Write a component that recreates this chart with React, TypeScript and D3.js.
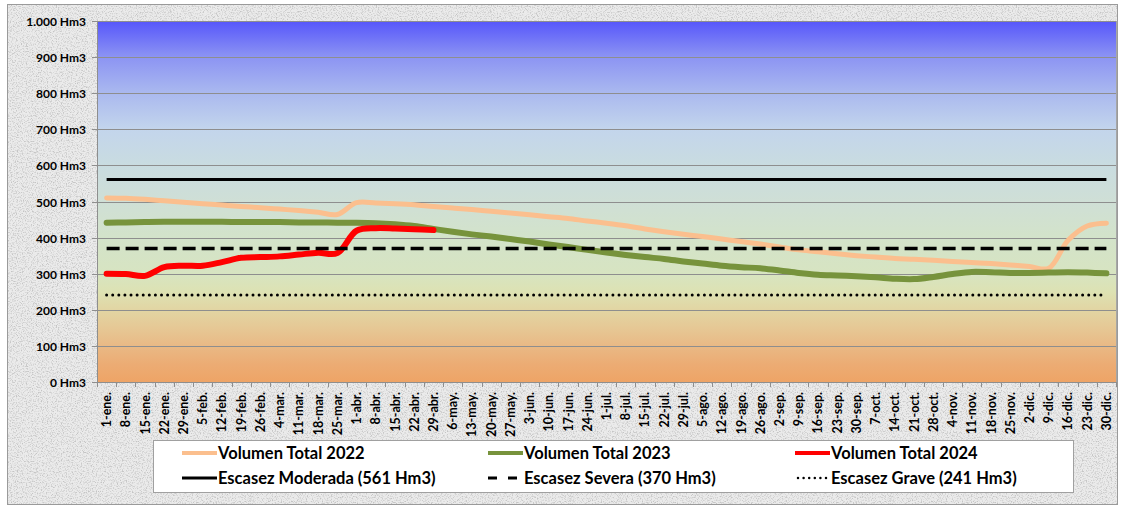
import { useRef, useEffect } from 'react';
import * as d3 from 'd3';

// weekly categories (leap year 2024)
const weeks = [
  '1-ene.', '8-ene.', '15-ene.', '22-ene.', '29-ene.',
  '5-feb.', '12-feb.', '19-feb.', '26-feb.',
  '4-mar.', '11-mar.', '18-mar.', '25-mar.',
  '1-abr.', '8-abr.', '15-abr.', '22-abr.', '29-abr.',
  '6-may.', '13-may.', '20-may.', '27-may.',
  '3-jun.', '10-jun.', '17-jun.', '24-jun.',
  '1-jul.', '8-jul.', '15-jul.', '22-jul.', '29-jul.',
  '5-ago.', '12-ago.', '19-ago.', '26-ago.',
  '2-sep.', '9-sep.', '16-sep.', '23-sep.', '30-sep.',
  '7-oct.', '14-oct.', '21-oct.', '28-oct.',
  '4-nov.', '11-nov.', '18-nov.', '25-nov.',
  '2-dic.', '9-dic.', '16-dic.', '23-dic.', '30-dic.',
];

// volumes in Hm3
const vol2022 = [
  510, 509, 506, 502, 498, 494, 490, 486, 483, 479, 475, 470, 464,
  497, 496, 494, 491, 486, 482, 478, 473, 468, 463, 458, 453, 446,
  440, 433, 424, 416, 409, 403, 396, 389, 382, 374, 366, 361, 355,
  350, 346, 342, 340, 337, 334, 331, 328, 324, 320, 315, 392, 432, 440,
];
const vol2023 = [
  441, 442, 443, 444, 444, 444, 444, 443, 443, 443, 442, 442, 441,
  441, 440, 437, 432, 424, 416, 409, 403, 396, 389, 381, 374, 366,
  359, 352, 346, 341, 334, 328, 322, 318, 315, 309, 302, 297, 295,
  293, 290, 286, 285, 291, 299, 305, 304, 302, 302, 303, 304, 303, 301,
];
const vol2024 = [
  300, 299, 294, 318, 322, 322, 332, 344, 346, 348, 353, 358, 357,
  419, 426, 425, 423, 421,
];

const seriesNames = ['Volumen Total 2022', 'Volumen Total 2023', 'Volumen Total 2024'];
const thresholdNames = ['Escasez Moderada (561 Hm3)', 'Escasez Severa (370 Hm3)', 'Escasez Grave (241 Hm3)'];
const thresholdValues = [561, 370, 241];
const yTicks = [0, 100, 200, 300, 400, 500, 600, 700, 800, 900, 1000];

const W = 1121;
const H = 507;
const FONT = "Lato, 'Open Sans', sans-serif";

export default function App() {
  const svgRef = useRef<SVGSVGElement>(null);

  useEffect(() => {
    const svg = d3.select(svgRef.current);
    svg.selectAll('*').remove();

    const plot = { left: 97, top: 21, right: 1116, bottom: 382 };

    const x = d3.scalePoint<string>().domain(weeks).range([plot.left, plot.right]).padding(0.5);
    const y = d3.scaleLinear().domain([0, 1000]).range([plot.bottom, plot.top]);
    const step = x.step();

    const defs = svg.append('defs');
    const grad = defs
      .append('linearGradient')
      .attr('id', 'plotBg')
      .attr('x1', 0).attr('y1', 0).attr('x2', 0).attr('y2', 1);
    const stops: [number, string][] = [
      [0, '#5656fb'],
      [0.1, '#8c94f3'],
      [0.2, '#aab9ef'],
      [0.3, '#c3d5ec'],
      [0.4, '#c9dce0'],
      [0.5, '#cfdfd6'],
      [0.6, '#d3e3ca'],
      [0.7, '#d7e4c1'],
      [0.75, '#dde2b3'],
      [0.8, '#e2d5a3'],
      [0.85, '#e6c895'],
      [0.9, '#e9b985'],
      [0.95, '#ecac74'],
      [1, '#eea466'],
    ];
    stops.forEach(([o, c]) => grad.append('stop').attr('offset', o).attr('stop-color', c));

    // grey granite texture of the chart background
    const filter = defs
      .append('filter')
      .attr('id', 'granite')
      .attr('x', 0).attr('y', 0).attr('width', '100%').attr('height', '100%');
    filter
      .append('feTurbulence')
      .attr('type', 'fractalNoise')
      .attr('baseFrequency', 0.8)
      .attr('numOctaves', 3)
      .attr('seed', 7);
    filter
      .append('feColorMatrix')
      .attr('type', 'matrix')
      .attr('values', '0 0 0 0 0.55  0 0 0 0 0.55  0 0 0 0 0.55  3.2 0 0 0 -1.5');

    // outer background
    svg.append('rect').attr('width', W).attr('height', H).attr('fill', '#ffffff');
    svg.append('rect').attr('x', 7).attr('y', 4).attr('width', 1111).attr('height', 501).attr('fill', '#ebebeb');
    svg.append('rect').attr('x', 7).attr('y', 4).attr('width', 1111).attr('height', 501).attr('filter', 'url(#granite)');
    svg
      .append('rect')
      .attr('x', 7.5).attr('y', 4.5).attr('width', 1110).attr('height', 500)
      .attr('fill', 'none').attr('stroke', '#9a9a9a');

    // plot area
    svg
      .append('rect')
      .attr('x', plot.left).attr('y', plot.top)
      .attr('width', plot.right - plot.left).attr('height', plot.bottom - plot.top)
      .attr('fill', 'url(#plotBg)');
    svg
      .append('line')
      .attr('x1', plot.right + 0.5).attr('x2', plot.right + 0.5)
      .attr('y1', plot.top).attr('y2', plot.bottom)
      .attr('stroke', '#a6a6a6');

    // gridlines + y labels
    for (const t of yTicks) {
      const ty = Math.round(y(t)) + 0.5;
      svg
        .append('line')
        .attr('x1', plot.left - 5).attr('x2', plot.right)
        .attr('y1', ty).attr('y2', ty)
        .attr('stroke', '#8e8e8e').attr('stroke-width', 1);
      svg
        .append('text')
        .attr('x', 86).attr('y', ty + 4)
        .attr('text-anchor', 'end')
        .attr('font-family', FONT).attr('font-weight', 700).attr('font-size', '12px')
        .attr('fill', '#000')
        .text(`${d3.format(',')(t).replace(',', '.')} Hm3`);
    }

    // axes
    svg
      .append('line')
      .attr('x1', plot.left + 0.5).attr('x2', plot.left + 0.5)
      .attr('y1', plot.top).attr('y2', plot.bottom)
      .attr('stroke', '#8e8e8e');
    for (let i = 0; i <= weeks.length; i++) {
      const tx = Math.round(plot.left + i * step) + 0.5;
      svg
        .append('line')
        .attr('x1', tx).attr('x2', tx)
        .attr('y1', plot.bottom).attr('y2', plot.bottom + 5)
        .attr('stroke', '#8e8e8e');
    }
    for (const w of weeks) {
      const tx = (x(w) ?? 0) + 4.5;
      svg
        .append('text')
        .attr('transform', `translate(${tx},392) rotate(-90)`)
        .attr('text-anchor', 'end')
        .attr('font-family', FONT).attr('font-weight', 700).attr('font-size', '12.5px')
        .attr('fill', '#000')
        .text(w);
    }

    // series
    const line = d3
      .line<number>()
      .x((_, i) => x(weeks[i]) ?? 0)
      .y((d) => y(d))
      .curve(d3.curveCatmullRom.alpha(0.5));

    const seriesStyle = [
      { color: '#fbbf8e', width: 5 },
      { color: '#77933c', width: 6 },
      { color: '#ff0000', width: 6 },
    ];
    [vol2022, vol2023, vol2024].forEach((vals, i) => {
      svg
        .append('path')
        .datum(vals)
        .attr('d', line)
        .attr('fill', 'none')
        .attr('stroke', seriesStyle[i].color)
        .attr('stroke-width', seriesStyle[i].width)
        .attr('stroke-linecap', 'round')
        .attr('stroke-linejoin', 'round');
    });

    // scarcity thresholds
    const thStyle = [
      { dash: null as string | null, width: 3, cap: 'butt' },
      { dash: '13,6', width: 3.5, cap: 'butt' },
      { dash: '0,6.1', width: 3, cap: 'round' },
    ];
    const x0 = x(weeks[0]) ?? 0;
    const x1 = x(weeks[weeks.length - 1]) ?? 0;
    thresholdValues.forEach((v, i) => {
      svg
        .append('line')
        .attr('x1', x0).attr('x2', x1)
        .attr('y1', y(v)).attr('y2', y(v))
        .attr('stroke', '#000')
        .attr('stroke-width', thStyle[i].width)
        .attr('stroke-linecap', thStyle[i].cap)
        .attr('stroke-dasharray', thStyle[i].dash);
    });

    // legend
    svg
      .append('rect')
      .attr('x', 153.5).attr('y', 440.5).attr('width', 920).attr('height', 52)
      .attr('fill', '#fff').attr('stroke', '#a0a0a0');
    const colX = [182, 488, 795];
    const rowY = [453, 478];
    const legendItems = [
      ...seriesNames.map((name, i) => ({
        name, row: 0, col: i, color: seriesStyle[i].color, width: 4, dash: null as string | null, cap: 'butt',
      })),
      ...thresholdNames.map((name, i) => ({
        name, row: 1, col: i, color: '#000',
        width: i === 2 ? 2.5 : 3,
        dash: i === 0 ? null : i === 1 ? '9,11' : '0,5.6',
        cap: i === 2 ? 'round' : 'butt',
      })),
    ];
    for (const it of legendItems) {
      const lx = colX[it.col];
      const ly = rowY[it.row];
      svg
        .append('line')
        .attr('x1', it.cap === 'round' ? lx + 3 : lx).attr('x2', lx + 35)
        .attr('y1', ly).attr('y2', ly)
        .attr('stroke', it.color)
        .attr('stroke-width', it.width)
        .attr('stroke-linecap', it.cap)
        .attr('stroke-dasharray', it.dash);
      svg
        .append('text')
        .attr('x', lx + 36).attr('y', ly + 5.5)
        .attr('font-family', FONT).attr('font-weight', 700).attr('font-size', '16.5px')
        .attr('fill', '#000')
        .text(it.name);
    }
  }, []);

  return (
    <div style={{ position: 'absolute', left: 0, top: 0 }}>
      <svg ref={svgRef} width={W} height={H} viewBox={`0 0 ${W} ${H}`} style={{ display: 'block' }} />
    </div>
  );
}
